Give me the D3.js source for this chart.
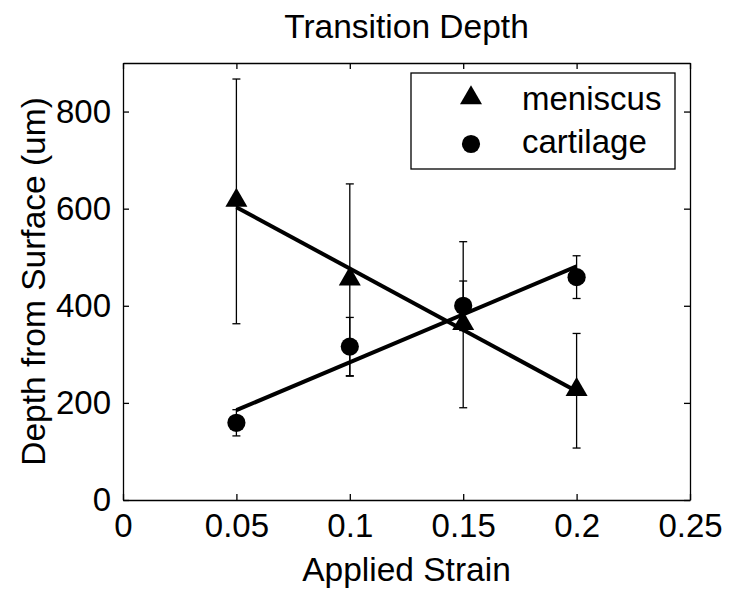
<!DOCTYPE html>
<html>
<head>
<meta charset="utf-8">
<script src="https://cdn.jsdelivr.net/npm/d3@7"></script>
<style>
  body { margin: 0; background: #fff; }
  text { font-family: "Liberation Sans", Arial, sans-serif; fill: #000; }
  .axis path, .axis line { stroke: #000; stroke-width: 1.3px; }
  .axis text { font-size: 33px; }
</style>
</head>
<body>
<svg width="736" height="598"></svg>
<script>
// values
var strain = [0.05, 0.1, 0.15, 0.2];
var meniscusMean = [615, 453, 361, 225];
var meniscusErr = [252, 198, 171, 118];
var cartilageMean = [159, 316, 400, 459];
var cartilageErr = [27, 60, 51, 44];

// linear fit end points
var fitStrain = [0.05, 0.2];
var meniscusFit = [603, 224];
var cartilageFit = [185, 481];

var xTicks = [0, 0.05, 0.1, 0.15, 0.2, 0.25];
var xTickLabels = ["0", "0.05", "0.1", "0.15", "0.2", "0.25"];
var yTicks = [0, 200, 400, 600, 800];

var svg = d3.select("svg"),
    margin = {top: 63, right: 46, bottom: 98, left: 123},
    width = +svg.attr("width") - margin.left - margin.right,
    height = +svg.attr("height") - margin.top - margin.bottom,
    g = svg.append("g").attr("transform", "translate(" + margin.left + "," + margin.top + ")");

var x = d3.scaleLinear().domain([0, 0.25]).range([0, width]);
var y = d3.scaleLinear().domain([0, 900]).range([height, 0]);

// axes, MATLAB style: ticks inside, box all round
g.append("g")
    .attr("class", "axis axis--x")
    .attr("transform", "translate(0," + height + ")")
    .call(d3.axisBottom(x).tickValues(xTicks).tickSizeInner(-6).tickSizeOuter(0).tickPadding(14)
        .tickFormat(function(d, i) { return xTickLabels[i]; }));

g.append("g")
    .attr("class", "axis axis--x2")
    .call(d3.axisTop(x).tickValues(xTicks).tickSizeInner(-6).tickSizeOuter(0).tickFormat(""));

g.append("g")
    .attr("class", "axis axis--y")
    .call(d3.axisLeft(y).tickValues(yTicks).tickSizeInner(-6).tickSizeOuter(0).tickPadding(12));

g.append("g")
    .attr("class", "axis axis--y2")
    .attr("transform", "translate(" + width + ",0)")
    .call(d3.axisRight(y).tickValues(yTicks).tickSizeInner(-6).tickSizeOuter(0).tickFormat(""));

// fit lines
var line = d3.line()
    .x(function(d) { return x(d[0]); })
    .y(function(d) { return y(d[1]); });

[meniscusFit, cartilageFit].forEach(function(fit) {
    g.append("path")
        .datum(fitStrain.map(function(s, i) { return [s, fit[i]]; }))
        .attr("fill", "none")
        .attr("stroke", "#000")
        .attr("stroke-width", 4)
        .attr("d", line);
});

// error bars
var series = [
    {name: "meniscus", mean: meniscusMean, err: meniscusErr},
    {name: "cartilage", mean: cartilageMean, err: cartilageErr}
];

var cap = 4;
series.forEach(function(s) {
    var pts = strain.map(function(v, i) { return {x: v, m: s.mean[i], e: s.err[i]}; });
    var eb = g.append("g").attr("stroke", "#000").attr("stroke-width", 1.3);
    pts.forEach(function(p) {
        var cx = x(p.x), lo = y(p.m - p.e), hi = y(p.m + p.e);
        eb.append("line").attr("x1", cx).attr("x2", cx).attr("y1", lo).attr("y2", hi);
        eb.append("line").attr("x1", cx - cap).attr("x2", cx + cap).attr("y1", lo).attr("y2", lo);
        eb.append("line").attr("x1", cx - cap).attr("x2", cx + cap).attr("y1", hi).attr("y2", hi);
    });
});

// markers
var triangle = d3.symbol().type(d3.symbolTriangle).size(210);
var circle = d3.symbol().type(d3.symbolCircle).size(260);

g.selectAll(".tri")
    .data(strain)
  .enter().append("path")
    .attr("class", "tri")
    .attr("transform", function(d, i) { return "translate(" + x(d) + "," + (y(meniscusMean[i]) - 1) + ")"; })
    .attr("d", triangle)
    .attr("fill", "#000");

g.selectAll(".dot")
    .data(strain)
  .enter().append("path")
    .attr("class", "dot")
    .attr("transform", function(d, i) { return "translate(" + x(d) + "," + y(cartilageMean[i]) + ")"; })
    .attr("d", circle)
    .attr("fill", "#000");

// legend
var lx = 411 - margin.left, ly = 73 - margin.top;
var legend = g.append("g").attr("transform", "translate(" + lx + "," + ly + ")");
legend.append("rect")
    .attr("width", 264).attr("height", 96)
    .attr("fill", "#fff").attr("stroke", "#000").attr("stroke-width", 1.3);
legend.append("path").attr("d", triangle).attr("transform", "translate(60,25)");
legend.append("path").attr("d", circle).attr("transform", "translate(60,71)");
legend.append("text").attr("x", 111).attr("y", 37).style("font-size", "33px").text("meniscus");
legend.append("text").attr("x", 111).attr("y", 80).style("font-size", "33px").text("cartilage");

// titles
svg.append("text")
    .attr("x", margin.left + width / 2).attr("y", 38)
    .attr("text-anchor", "middle").style("font-size", "33.5px")
    .text("Transition Depth");

svg.append("text")
    .attr("x", margin.left + width / 2).attr("y", 581)
    .attr("text-anchor", "middle").style("font-size", "33.5px")
    .text("Applied Strain");

svg.append("text")
    .attr("transform", "translate(45," + (margin.top + height / 2) + ") rotate(-90)")
    .attr("text-anchor", "middle").style("font-size", "33.5px")
    .text("Depth from Surface (um)");
</script>
</body>
</html>
